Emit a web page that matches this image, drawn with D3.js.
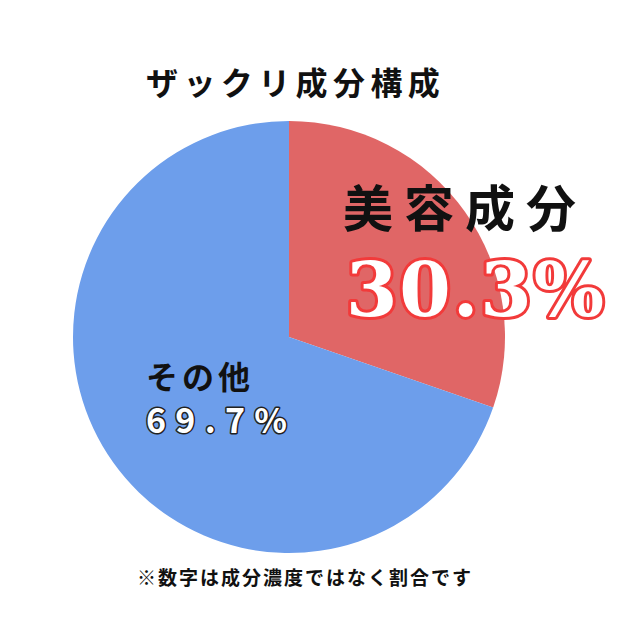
<!DOCTYPE html>
<html>
<head>
<meta charset="utf-8">
<title>ザックリ成分構成</title>
<script src="https://cdn.jsdelivr.net/npm/d3@7"></script>
<style>
  body { margin: 0; background: #ffffff; }
  text { font-family: "Noto Sans CJK JP", "Noto Sans", sans-serif; }
</style>
</head>
<body>
<script>
  // data
  var categories = ["美容成分", "その他"];
  var values = [30.3, 69.7];
  var valueLabels = ["30.3%", "69.7%"];
  var colors = ["#e06666", "#6d9eeb"];

  var width = 620, height = 620;
  var cx = 289, cy = 337, radius = 216;

  var svg = d3.select("body").append("svg")
    .attr("width", width)
    .attr("height", height);

  // title
  svg.append("text")
    .attr("x", 146)
    .attr("y", 95)
    .style("font-size", "32px")
    .style("font-weight", 700)
    .style("letter-spacing", "5.4px")
    .style("fill", "#111")
    .text("ザックリ成分構成");

  var pie = d3.pie().sort(null).value(function (d) { return d; });
  var arc = d3.arc().innerRadius(0).outerRadius(radius);

  var g = svg.append("g").attr("transform", "translate(" + cx + "," + cy + ")");

  g.selectAll("path.slice")
    .data(pie(values))
    .enter().append("path")
    .attr("class", "slice")
    .attr("d", arc)
    .attr("fill", function (d, i) { return colors[i]; });

  // label for the beauty ingredients slice
  svg.append("text")
    .attr("x", 343)
    .attr("y", 227)
    .style("font-size", "50px")
    .style("font-weight", 700)
    .style("letter-spacing", "11px")
    .style("fill", "#111")
    .text(categories[0]);

  svg.append("text")
    .attr("x", 346)
    .attr("y", 316)
    .attr("textLength", 258)
    .attr("lengthAdjust", "spacing")
    .style("font-family", "'DejaVu Serif', serif")
    .style("font-size", "74px")
    .style("font-weight", 700)
    .style("fill", "#ffffff")
    .style("stroke", "#f23a3a")
    .style("stroke-width", "6px")
    .style("stroke-linejoin", "round")
    .style("paint-order", "stroke")
    .text(valueLabels[0]);

  // label for the other slice
  svg.append("text")
    .attr("x", 146)
    .attr("y", 389)
    .style("font-size", "32px")
    .style("font-weight", 700)
    .style("letter-spacing", "4px")
    .style("fill", "#111")
    .text(categories[1]);

  svg.append("text")
    .attr("x", 146)
    .attr("y", 433)
    .attr("textLength", 141)
    .attr("lengthAdjust", "spacing")
    .style("font-size", "34px")
    .style("font-weight", 700)
    .style("fill", "#ffffff")
    .style("stroke", "#222")
    .style("stroke-width", "3px")
    .style("stroke-linejoin", "round")
    .style("paint-order", "stroke")
    .text(valueLabels[1]);

  // footnote
  svg.append("text")
    .attr("x", 137)
    .attr("y", 585)
    .style("font-size", "19px")
    .style("font-weight", 700)
    .style("letter-spacing", "2px")
    .style("fill", "#111")
    .text("※数字は成分濃度ではなく割合です");
</script>
</body>
</html>
